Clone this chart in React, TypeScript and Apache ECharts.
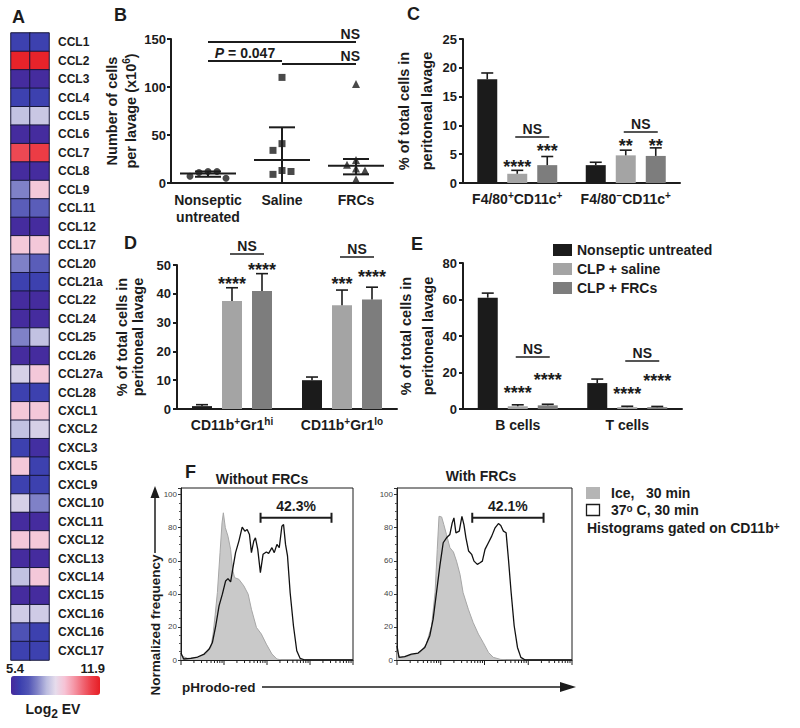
import React, { useEffect, useRef } from 'react';
import * as echarts from 'echarts';

const FONT = '"Liberation Sans", Arial, Helvetica, sans-serif';
const INK = '#1c1c1c';

// ---------- Panel A : heat map ----------
const GENES = ['CCL1', 'CCL2', 'CCL3', 'CCL4', 'CCL5', 'CCL6', 'CCL7', 'CCL8', 'CCL9', 'CCL11', 'CCL12', 'CCL17', 'CCL20', 'CCL21a', 'CCL22', 'CCL24', 'CCL25', 'CCL26', 'CCL27a', 'CCL28', 'CXCL1', 'CXCL2', 'CXCL3', 'CXCL5', 'CXCL9', 'CXCL10', 'CXCL11', 'CXCL12', 'CXCL13', 'CXCL14', 'CXCL15', 'CXCL16', 'CXCL16', 'CXCL17'];
const EV_SAMPLE1 = [6.1, 11.8, 5.5, 6.1, 8.1, 5.5, 11.1, 5.5, 7.3, 6.8, 5.5, 9.2, 7.3, 6.1, 5.5, 5.5, 7.3, 5.5, 8.4, 6.1, 9.2, 8.1, 6.1, 9.2, 6.1, 8.4, 5.5, 9.2, 5.5, 8.1, 5.5, 8.3, 6.6, 6.1];
const EV_SAMPLE2 = [6.1, 11.8, 5.5, 6.1, 8.2, 5.5, 11.3, 5.5, 9.2, 6.8, 5.5, 9.2, 6.8, 6.1, 5.5, 5.5, 8.1, 5.5, 9.2, 6.1, 9.2, 8.4, 5.6, 6.1, 6.1, 7.3, 5.5, 9.2, 5.5, 9.2, 5.5, 8.3, 6.1, 6.1];
const EV_MIN = 5.4;
const EV_MAX = 11.9;
const EV_COLORS = ['#47289b', '#3b3fae', '#5256b6', '#8385c8', '#bcbde0', '#e6dcec', '#f6c4d6', '#f59aaa', '#f06a78', '#ec3e48', '#e61e25'];

// ---------- Panel B ----------
const B_CATEGORIES = ['Nonseptic\nuntreated', 'Saline', 'FRCs'];
const B_NONSEPTIC = [12, 11, 12, 7, 5];
const B_SALINE = [110, 41, 34, 13, 9, 12];
const B_FRCS = [103, 24, 19, 15, 13, 4];
const B_MEDIAN = [10, 24, 18];
const B_LOWER = [6.5, 0, 9];
const B_UPPER = [12, 58, 25];
const B_TEST_FROM = [0, 0, 1];
const B_TEST_TO = [2, 1, 2];
const B_TEST_LEVEL = [147, 127, 124];
const B_TEST_LABEL = ['NS', '{i|P} = 0.047', 'NS'];

// ---------- Panels C, D, E (grouped bars) ----------
const GROUPS = ['Nonseptic untreated', 'CLP + saline', 'CLP + FRCs'];
const GROUP_COLORS = ['#1b1b1b', '#a4a4a4', '#7d7d7d'];

const C_CATEGORIES = ['F4/80+CD11c+', 'F4/80\u2212CD11c+'];
const C_MEAN = [[18.0, 3.1], [1.6, 4.8], [3.1, 4.7]];
const C_SD = [[1.1, 0.5], [0.6, 0.9], [1.5, 1.4]];
const C_NS_LEVEL = [8.0, 8.85];
const C_STARS = [['****', '***'], ['**', '**']];
const C_STAR_LEVEL = [[3.5, 6.25], [7.1, 7.1]];

const D_CATEGORIES = ['CD11b+Gr1hi', 'CD11b+Gr1lo'];
const D_MEAN = [[1.0, 10.0], [37.5, 36.0], [41.0, 38.0]];
const D_SD = [[0.5, 1.1], [4.6, 5.3], [6.0, 4.3]];
const D_NS_LEVEL = [53.8, 52.8];
const D_STARS = [['****', '****'], ['***', '****']];
const D_STAR_LEVEL = [[44.8, 49.6], [44.8, 47.2]];

const E_CATEGORIES = ['B cells', 'T cells'];
const E_MEAN = [[61.0, 14.2], [1.5, 1.0], [2.0, 1.0]];
const E_SD = [[2.5, 2.2], [0.8, 0.5], [0.6, 0.4]];
const E_NS_LEVEL = [28.5, 26.3];
const E_STARS = [['****', '****'], ['****', '****']];
const E_STAR_LEVEL = [[11, 18], [10.4, 17.5]];

// ---------- Panel F : histograms (x in decades of pHrodo-red) ----------
const ICE_NOFRC_X = [0, 0.154, 0.385, 0.577, 0.692, 0.746, 0.792, 0.846, 0.908, 0.954, 0.985, 1.031, 1.092, 1.154, 1.2, 1.246, 1.346, 1.462, 1.562, 1.638, 1.754, 1.869, 1.985, 2.115, 2.231, 2.346, 4];
const ICE_NOFRC_Y = [2.6, 1, 1.6, 3.6, 7.6, 15.7, 26.7, 40.8, 64.9, 82.9, 89, 80, 74.9, 66.9, 54.8, 49.8, 48.8, 44.8, 39.8, 30.7, 19.7, 15.7, 9.6, 3.6, 0.6, 0, 0];
const WARM_NOFRC_X = [0, 0.062, 0.231, 0.385, 0.538, 0.654, 0.731, 0.808, 0.885, 0.962, 1.038, 1.092, 1.154, 1.215, 1.269, 1.346, 1.423, 1.485, 1.538, 1.592, 1.638, 1.692, 1.731, 1.785, 1.846, 1.908, 1.985, 2.038, 2.115, 2.169, 2.231, 2.285, 2.346, 2.385, 2.431, 2.477, 2.538, 2.615, 2.692, 2.769, 2.885, 4];
const WARM_NOFRC_Y = [4.2, 0.6, 1, 1.8, 3.6, 6.6, 10.6, 20.7, 32.7, 39.8, 47.8, 49.2, 47.2, 56.8, 64.9, 71.9, 80.3, 77.9, 78.9, 75.9, 64.9, 71.9, 73.9, 66.9, 52.8, 63.9, 65.3, 64.5, 67.9, 64.9, 69.9, 67.9, 80.9, 81.9, 69.9, 62.9, 40.8, 20.7, 5.6, 1, 0, 0];
const ICE_FRC_X = [0, 0.06, 0.21, 0.37, 0.52, 0.67, 0.79, 0.87, 0.92, 0.96, 1.02, 1.07, 1.13, 1.21, 1.29, 1.36, 1.44, 1.51, 1.63, 1.74, 1.86, 1.97, 2.09, 2.2, 2.36, 2.51, 4];
const ICE_FRC_Y = [5.6, 1.6, 2, 3.4, 4.2, 9.6, 20.7, 40.8, 66.9, 86.9, 86.5, 81.9, 75.9, 67.9, 65.3, 59.8, 51.8, 40.8, 30.7, 22.7, 15.7, 10.6, 4.6, 1.6, 0.4, 0, 0];
const WARM_FRC_X = [0, 0.046, 0.176, 0.329, 0.482, 0.635, 0.75, 0.826, 0.903, 0.979, 1.056, 1.132, 1.209, 1.262, 1.301, 1.347, 1.423, 1.484, 1.53, 1.576, 1.637, 1.706, 1.76, 1.836, 1.897, 1.951, 2.012, 2.089, 2.165, 2.242, 2.318, 2.372, 2.433, 2.494, 2.548, 2.609, 2.678, 2.754, 2.831, 2.93, 4];
const WARM_FRC_Y = [8.6, 1.6, 2, 3.6, 4.2, 7.6, 14.7, 24.7, 40.8, 56.8, 70.9, 73.9, 75.9, 82.9, 85.9, 76.9, 77.9, 86.9, 81.9, 73.9, 65.9, 63.9, 59.8, 57.8, 58.8, 59.8, 66.9, 70.9, 74.9, 79.9, 82.5, 81.3, 77.9, 76.9, 60.8, 40.8, 20.7, 7.6, 1.6, 0, 0];
const GATE_LABELS = ['42.3%', '42.1%'];
const GATE_START = [1.85, 1.72];
const GATE_END = [3.5, 3.35];
const GATE_LEVEL = 86;
const DECADES = [0, 1, 2, 3];

// ---------- helpers ----------
const STEP = 30; // distance between grouped bar centres (barWidth 20, barGap 50%)

const bold = (size: number) => ({ fontFamily: FONT, fontWeight: 'bold', fontSize: size, color: INK });

function textEl(text: string, x: number, y: number, size: number, align = 'left', va = 'middle', extra: any = {}) {
  return {
    type: 'text', x, y, silent: true,
    style: {
      text, font: `bold ${size}px ${FONT}`, fill: INK,
      textAlign: align, align, textVerticalAlign: va, verticalAlign: va, ...extra,
    },
  };
}

const SUP_RICH = {
  s: { fontFamily: FONT, fontWeight: 'bold', fontSize: 10, lineHeight: 10, verticalAlign: 'top', color: INK },
};
const supFmt = (v: string) => v.replace(/([+\u2212]|hi$|lo$)/g, '{s|$1}');

function barAxes(idx: number, cats: string[], max: number, interval: number, nameGap: number, nameLH: number) {
  return {
    x: {
      type: 'category', gridIndex: idx, data: cats,
      axisLine: { lineStyle: { color: INK, width: 2 } },
      axisTick: { alignWithLabel: true, length: 4, lineStyle: { color: INK, width: 2 } },
      axisLabel: { ...bold(14), interval: 0, hideOverlap: false, margin: 7, lineHeight: 18, formatter: supFmt, rich: SUP_RICH },
      splitLine: { show: false },
    },
    y: {
      type: 'value', gridIndex: idx, min: 0, max, interval,
      axisLine: { show: true, lineStyle: { color: INK, width: 2 } },
      axisTick: { show: true, length: 4, lineStyle: { color: INK, width: 2 } },
      axisLabel: { ...bold(13), margin: 6 },
      splitLine: { show: false },
      name: '% of total cells in\nperitoneal lavage', nameLocation: 'middle', nameGap,
      nameTextStyle: { ...bold(14.5), lineHeight: nameLH },
    },
  };
}

function barSeries(idx: number, means: number[][]) {
  return GROUPS.map((g, gi) => ({
    type: 'bar', name: g, xAxisIndex: idx, yAxisIndex: idx, data: means[gi],
    barWidth: 20, barGap: '50%', itemStyle: { color: GROUP_COLORS[gi] }, silent: true,
  }));
}

function errorSeries(idx: number, means: number[][], sds: number[][]) {
  const data: number[][] = [];
  means.forEach((row, g) => row.forEach((m, c) => data.push([c, m, sds[g][c], g])));
  return {
    type: 'custom', xAxisIndex: idx, yAxisIndex: idx, data, encode: { x: 0, y: 1 }, silent: true, z: 5, clip: false,
    renderItem: (params: any, api: any) => {
      const c = api.value(0), m = api.value(1), s = api.value(2), g = api.value(3);
      const base = api.coord([c, m]);
      const top = api.coord([c, m + s]);
      const x = base[0] + (g - 1) * STEP;
      const ls = { stroke: INK, lineWidth: 1.6 };
      return {
        type: 'group', children: [
          { type: 'line', shape: { x1: x, y1: base[1], x2: x, y2: top[1] }, style: ls },
          { type: 'line', shape: { x1: x - 6, y1: top[1], x2: x + 6, y2: top[1] }, style: ls },
        ],
      };
    },
  };
}

function annotationSeries(idx: number, nsLevels: number[], stars: string[][], starLevels: number[][]) {
  const items: any[] = [];
  nsLevels.forEach((y, c) => items.push({ kind: 'ns', c, y }));
  stars.forEach((row, c) => row.forEach((t, k) => items.push({ kind: 'star', c, g: k + 1, y: starLevels[c][k], t })));
  return {
    type: 'custom', xAxisIndex: idx, yAxisIndex: idx, silent: true, clip: false, z: 10,
    data: items.map((it) => [it.c, it.y]), encode: { x: 0, y: 1 },
    renderItem: (params: any, api: any) => {
      const it = items[params.dataIndex];
      const p = api.coord([it.c, it.y]);
      if (it.kind === 'ns') {
        const xa = p[0] - 2, xb = p[0] + STEP + 2;
        return {
          type: 'group', children: [
            { type: 'line', shape: { x1: xa, y1: p[1], x2: xb, y2: p[1] }, style: { stroke: INK, lineWidth: 1.5 } },
            textEl('NS', (xa + xb) / 2, p[1] - 1, 14, 'center', 'bottom'),
          ],
        };
      }
      return textEl(it.t, p[0] + (it.g - 1) * STEP, p[1] + 4, 18, 'center', 'middle');
    },
  };
}

function beeswarm(values: number[], pxPerUnit: number, size = 8) {
  const placed: { x: number; y: number }[] = [];
  return values.map((v) => {
    const y = v * pxPerUnit;
    for (const off of [0, -9, 9, -18, 18, -27, 27]) {
      if (placed.every((p) => Math.abs(p.x - off) >= size || Math.abs(p.y - y) >= size)) {
        placed.push({ x: off, y });
        return off;
      }
    }
    return 0;
  });
}

function histAxes(idx: number) {
  return {
    x: {
      type: 'value', gridIndex: idx, min: 0, max: 4,
      axisLine: { show: true, onZero: false, lineStyle: { color: INK, width: 1 } },
      axisTick: { show: false }, axisLabel: { show: false }, splitLine: { show: false },
    },
    y: {
      type: 'value', gridIndex: idx, min: 0, max: 104, interval: 20,
      axisLine: { show: true, lineStyle: { color: INK, width: 1 } },
      axisTick: { show: true, length: 3, lineStyle: { color: '#333', width: 1 } },
      minorTick: { show: true, splitNumber: 4, length: 2, lineStyle: { color: '#555' } },
      axisLabel: { fontFamily: FONT, fontSize: 8, color: '#444', margin: 4, formatter: (v: number) => (v % 20 === 0 ? String(v) : '') },
      splitLine: { show: false },
    },
  };
}

function histSeries(idx: number, iceX: number[], iceY: number[], warmX: number[], warmY: number[]) {
  return [
    {
      type: 'line', xAxisIndex: idx, yAxisIndex: idx, data: iceX.map((x, i) => [x, iceY[i]]),
      showSymbol: false, symbol: 'none', silent: true, z: 2,
      lineStyle: { color: '#a6a6a6', width: 1 }, areaStyle: { color: '#c9c9c9', opacity: 1 },
    },
    {
      type: 'line', xAxisIndex: idx, yAxisIndex: idx, data: warmX.map((x, i) => [x, warmY[i]]),
      showSymbol: false, symbol: 'none', silent: true, z: 3,
      lineStyle: { color: '#111', width: 1.3 },
    },
  ];
}

function logTickSeries(idx: number) {
  const ticks: number[][] = [];
  DECADES.forEach((d) => { for (let k = 1; k <= 9; k++) ticks.push([d + Math.log10(k), k === 1 ? 1 : 0]); });
  ticks.push([DECADES.length, 1]);
  return {
    type: 'custom', xAxisIndex: idx, yAxisIndex: idx, data: ticks, encode: { x: 0, y: 1 }, silent: true, clip: false, z: 4,
    renderItem: (params: any, api: any) => {
      const p = api.coord([api.value(0), 0]);
      const len = api.value(1) ? 5 : 3;
      return { type: 'line', shape: { x1: p[0], y1: p[1], x2: p[0], y2: p[1] + len }, style: { stroke: INK, lineWidth: 1 } };
    },
  };
}

function gateSeries(idx: number, g: number) {
  return {
    type: 'custom', xAxisIndex: idx, yAxisIndex: idx, silent: true, clip: false, z: 6,
    data: [[GATE_START[g], GATE_LEVEL, GATE_END[g]]], encode: { x: [0, 2], y: 1 },
    renderItem: (params: any, api: any) => {
      const a = api.coord([api.value(0), api.value(1)]);
      const b = api.coord([api.value(2), api.value(1)]);
      const ls = { stroke: INK, lineWidth: 2 };
      return {
        type: 'group', children: [
          { type: 'line', shape: { x1: a[0], y1: a[1], x2: b[0], y2: b[1] }, style: ls },
          { type: 'line', shape: { x1: a[0], y1: a[1] - 5, x2: a[0], y2: a[1] + 5 }, style: ls },
          { type: 'line', shape: { x1: b[0], y1: b[1] - 5, x2: b[0], y2: b[1] + 5 }, style: ls },
          textEl(GATE_LABELS[g], (a[0] + b[0]) / 2, a[1] - 5, 14, 'center', 'bottom'),
        ],
      };
    },
  };
}

function buildOption() {
  const heatData: number[][] = [];
  GENES.forEach((_, r) => {
    heatData.push([0, r, EV_SAMPLE1[r]]);
    heatData.push([1, r, EV_SAMPLE2[r]]);
  });

  const bAxisX = {
    type: 'category', gridIndex: 1, data: B_CATEGORIES,
    axisLine: { lineStyle: { color: INK, width: 2 } },
    axisTick: { alignWithLabel: true, length: 4, lineStyle: { color: INK, width: 2 } },
    axisLabel: { ...bold(14), interval: 0, hideOverlap: false, margin: 8, lineHeight: 17 },
    splitLine: { show: false },
  };
  const bAxisY = {
    type: 'value', gridIndex: 1, min: 0, max: 150, interval: 50,
    axisLine: { show: true, lineStyle: { color: INK, width: 2 } },
    axisTick: { show: true, length: 4, lineStyle: { color: INK, width: 2 } },
    axisLabel: { ...bold(13), margin: 5 },
    splitLine: { show: false },
    name: 'Number of cells\nper lavage (x10{s|6})', nameLocation: 'middle', nameGap: 15,
    nameTextStyle: { ...bold(14.5), lineHeight: 19, rich: SUP_RICH },
  };

  const C = barAxes(2, C_CATEGORIES, 25, 5, 17, 23);
  const D = barAxes(3, D_CATEGORIES, 50, 10, 31, 16);
  const E = barAxes(4, E_CATEGORIES, 80, 20, 15, 22);
  const F1 = histAxes(5);
  const F2 = histAxes(6);

  const bGroups = [B_NONSEPTIC, B_SALINE, B_FRCS];
  const bSymbols = ['circle', 'rect', 'triangle'];
  const bScatter = bGroups.map((vals, ci) => {
    const offs = beeswarm(vals, 144 / 150);
    return {
      type: 'scatter', xAxisIndex: 1, yAxisIndex: 1, symbol: bSymbols[ci], symbolSize: ci === 2 ? 8 : 7,
      itemStyle: { color: INK }, silent: true, z: 3,
      data: vals.map((v, i) => ({ value: [ci, v], symbolOffset: [offs[i], 0] })),
    };
  });

  const bSummary = {
    type: 'custom', xAxisIndex: 1, yAxisIndex: 1, silent: true, z: 4, clip: false,
    data: B_MEDIAN.map((m, i) => [i, m, B_LOWER[i], B_UPPER[i]]), encode: { x: 0, y: [1, 2, 3] },
    renderItem: (params: any, api: any) => {
      const i = api.value(0);
      const pm = api.coord([i, api.value(1)]);
      const yl = api.coord([i, api.value(2)])[1];
      const yu = api.coord([i, api.value(3)])[1];
      const x = pm[0];
      const ls = { stroke: INK, lineWidth: 2 };
      return {
        type: 'group', children: [
          { type: 'line', shape: { x1: x - 28, y1: pm[1], x2: x + 28, y2: pm[1] }, style: ls },
          { type: 'line', shape: { x1: x, y1: yl, x2: x, y2: yu }, style: ls },
          { type: 'line', shape: { x1: x - 13, y1: yu, x2: x + 13, y2: yu }, style: ls },
          { type: 'line', shape: { x1: x - 13, y1: yl, x2: x + 13, y2: yl }, style: ls },
        ],
      };
    },
  };

  const bTests = {
    type: 'custom', xAxisIndex: 1, yAxisIndex: 1, silent: true, z: 6, clip: false,
    data: B_TEST_FROM.map((f, i) => [f, B_TEST_LEVEL[i], B_TEST_TO[i]]), encode: { x: [0, 2], y: 1 },
    renderItem: (params: any, api: any) => {
      const i = params.dataIndex;
      const a = api.coord([api.value(0), api.value(1)]);
      const b = api.coord([api.value(2), api.value(1)]);
      const label = B_TEST_LABEL[i];
      const isMid = label !== 'NS';
      return {
        type: 'group', children: [
          { type: 'line', shape: { x1: a[0], y1: a[1], x2: b[0], y2: b[1] }, style: { stroke: INK, lineWidth: 2 } },
          textEl(label, isMid ? (a[0] + b[0]) / 2 : b[0] + 4, a[1] - 1, 14, isMid ? 'center' : 'right', 'bottom', {
            rich: { i: { fontFamily: FONT, fontWeight: 'bold', fontStyle: 'italic', fontSize: 14, fill: INK } },
          }),
        ],
      };
    },
  };

  const graphic: any[] = [
    textEl('A', 12, 17, 18), textEl('B', 114, 15, 18), textEl('C', 407, 14, 18),
    textEl('D', 124, 243, 18), textEl('E', 411, 244, 18), textEl('F', 185, 472, 18),
    textEl(String(EV_MIN), 6, 668, 13), textEl(String(EV_MAX), 105, 668, 13, 'right'),
    textEl('Log{sub|2} EV', 53, 709, 14, 'center', 'middle', {
      rich: { sub: { fontFamily: FONT, fontWeight: 'bold', fontSize: 12, lineHeight: 22, verticalAlign: 'bottom', fill: INK } },
    }),
    textEl('Without FRCs', 262, 479, 14, 'center'),
    textEl('With FRCs', 481, 476, 14, 'center'),
    { ...textEl('Normalized frequency', 155, 625, 13.5, 'center', 'middle'), rotation: Math.PI / 2 },
    { type: 'line', silent: true, shape: { x1: 155, y1: 553, x2: 155, y2: 494 }, style: { stroke: INK, lineWidth: 1.5 } },
    { type: 'polygon', silent: true, shape: { points: [[150.5, 498], [155, 486], [159.5, 498]] }, style: { fill: INK } },
    textEl('pHrodo-red', 182, 687, 13.5),
    { type: 'line', silent: true, shape: { x1: 262, y1: 687, x2: 566, y2: 687 }, style: { stroke: INK, lineWidth: 1.5 } },
    { type: 'polygon', silent: true, shape: { points: [[560, 682], [576, 687], [560, 692]] }, style: { fill: INK } },
    { type: 'rect', silent: true, shape: { x: 586, y: 487, width: 14, height: 12 }, style: { fill: '#b5b5b5' } },
    textEl('Ice,   30 min', 611, 493, 14),
    { type: 'rect', silent: true, shape: { x: 586.5, y: 504.5, width: 13, height: 11 }, style: { fill: '#fff', stroke: INK, lineWidth: 1.3 } },
    textEl('37{sup|o} C, 30 min', 611, 510, 14, 'left', 'middle', {
      rich: { sup: { fontFamily: FONT, fontWeight: 'bold', fontSize: 10, lineHeight: 10, verticalAlign: 'top', fill: INK } },
    }),
    textEl('Histograms gated on CD11b{sup|+}', 587, 528, 14, 'left', 'middle', {
      rich: { sup: { fontFamily: FONT, fontWeight: 'bold', fontSize: 10, lineHeight: 10, verticalAlign: 'top', fill: INK } },
    }),
  ];

  return {
    animation: false,
    backgroundColor: '#ffffff',
    textStyle: { fontFamily: FONT },
    grid: [
      { left: 11, top: 33, width: 38, height: 627 },
      { left: 171, top: 39, width: 222, height: 144 },
      { left: 463, top: 39, width: 217, height: 144 },
      { left: 177, top: 265, width: 220, height: 144 },
      { left: 463, top: 263, width: 219, height: 146 },
      { left: 181, top: 488, width: 172, height: 172, show: true, borderColor: INK, borderWidth: 1 },
      { left: 397, top: 488, width: 175, height: 172, show: true, borderColor: INK, borderWidth: 1 },
    ],
    xAxis: [
      { type: 'category', gridIndex: 0, data: ['sample 1', 'sample 2'], show: false },
      bAxisX, C.x, D.x, E.x, F1.x, F2.x,
    ],
    yAxis: [
      {
        type: 'category', gridIndex: 0, data: GENES, inverse: true, position: 'right',
        axisLine: { show: false }, axisTick: { show: false },
        axisLabel: { ...bold(12), interval: 0, margin: 9 },
      },
      bAxisY, C.y, D.y, E.y, F1.y, F2.y,
    ],
    visualMap: {
      type: 'continuous', seriesIndex: 0, min: EV_MIN, max: EV_MAX, orient: 'horizontal',
      left: 11, top: 676, itemWidth: 19, itemHeight: 89, calculable: false, hoverLink: false, padding: 0,
      inRange: { color: EV_COLORS },
    },
    legend: {
      data: GROUPS, orient: 'vertical', left: 548, top: 238, itemWidth: 19, itemHeight: 12, itemGap: 5,
      icon: 'rect', selectedMode: false, textStyle: { ...bold(14) },
    },
    graphic,
    series: [
      {
        type: 'heatmap', xAxisIndex: 0, yAxisIndex: 0, data: heatData, silent: true,
        itemStyle: { borderColor: '#17173a', borderWidth: 1 },
      },
      ...bScatter, bSummary, bTests,
      ...barSeries(2, C_MEAN), errorSeries(2, C_MEAN, C_SD), annotationSeries(2, C_NS_LEVEL, C_STARS, C_STAR_LEVEL),
      ...barSeries(3, D_MEAN), errorSeries(3, D_MEAN, D_SD), annotationSeries(3, D_NS_LEVEL, D_STARS, D_STAR_LEVEL),
      ...barSeries(4, E_MEAN), errorSeries(4, E_MEAN, E_SD), annotationSeries(4, E_NS_LEVEL, E_STARS, E_STAR_LEVEL),
      ...histSeries(5, ICE_NOFRC_X, ICE_NOFRC_Y, WARM_NOFRC_X, WARM_NOFRC_Y), logTickSeries(5), gateSeries(5, 0),
      ...histSeries(6, ICE_FRC_X, ICE_FRC_Y, WARM_FRC_X, WARM_FRC_Y), logTickSeries(6), gateSeries(6, 1),
    ],
  };
}

export default function App() {
  const ref = useRef<HTMLDivElement>(null);
  useEffect(() => {
    const chart = echarts.init(ref.current!, null, { renderer: 'svg' });
    chart.setOption(buildOption() as any);
    return () => chart.dispose();
  }, []);
  return <div ref={ref} style={{ position: 'fixed', left: 0, top: 0, width: 800, height: 728, background: '#fff' }} />;
}
